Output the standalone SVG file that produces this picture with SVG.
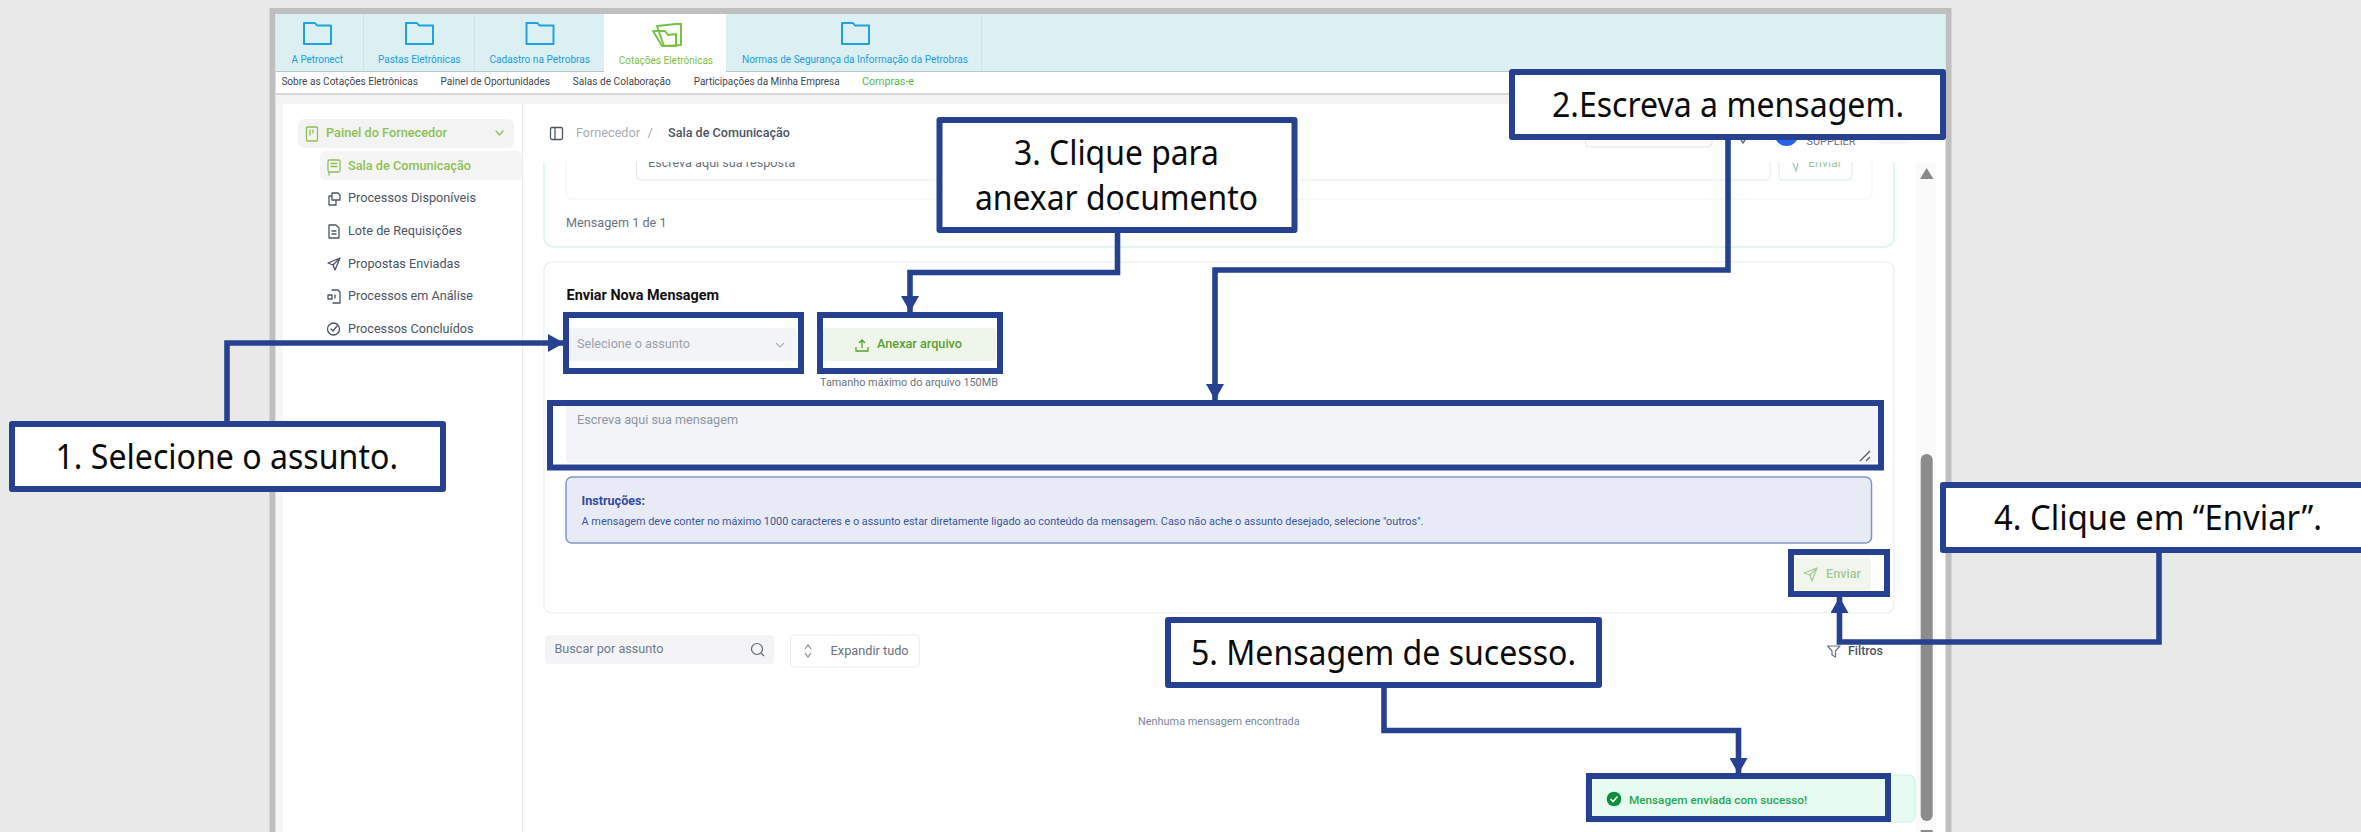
<svg xmlns="http://www.w3.org/2000/svg" width="2361" height="832" viewBox="0 0 2361 832">
<style>
text{font-family:Roboto,"Liberation Sans",sans-serif;font-size:12.5px;fill:#4b5563;white-space:pre}
.tab{font-size:10px;fill:#1aa0dc}
.nav{font-size:10px;fill:#3f4650}
.side{font-size:13px;fill:#4b5563}
.green{fill:#8cc152;font-weight:500}
.co{font-family:"Noto Sans","Open Sans",sans-serif;font-size:35px;fill:#0a0a0a}
.cobox{fill:#fff;stroke:#264190;stroke-width:6;stroke-linejoin:round}
.hl{fill:none;stroke:#264190;stroke-width:6}
.conn{fill:none;stroke:#264190;stroke-width:5.6}
.folder{fill:none;stroke:#1fa3e0;stroke-width:2;stroke-linejoin:round}
.ic{fill:none;stroke:#4b5563;stroke-width:1.3;stroke-linejoin:round;stroke-linecap:round}
.igr{fill:none;stroke:#8cc152;stroke-width:1.3;stroke-linejoin:round;stroke-linecap:round}
.card{fill:#fff;stroke:#e8edf5;stroke-width:1.2}
</style>
<defs>
<marker id="arrow" markerUnits="userSpaceOnUse" markerWidth="16" markerHeight="18" refX="16" refY="9" orient="auto"><path d="M0 0L16 9L0 18Z" fill="#264190"/></marker>
<path id="fold" class="folder" d="M1 23V2H12L14 4.500H28V23Z"/>
</defs>

<g id="window">
<rect width="2361" height="832" fill="#e9e9e9"/>
<rect x="272.500" y="11" width="1676" height="830" fill="#fff" stroke="#bfbfbf" stroke-width="6"/>
<rect x="276" y="95" width="1670" height="9" fill="#f3f3f3"/>
<rect x="276" y="104" width="7" height="728" fill="#f6f6f6"/>
<rect x="276" y="93" width="1670" height="2" fill="#d3d8dc"/>
<rect x="275.500" y="14" width="1670" height="57" fill="#dceff2"/>
<rect x="275.500" y="71" width="1670" height="1" fill="#b9c6cb"/>
<rect x="604" y="14" width="122" height="58" fill="#fff"/>
<path d="M363.500 14V70M474.500 14V70M981.500 14V70" stroke="#cfe2e6" stroke-width="1"/>
</g>

<g id="tabs">
<use href="#fold" x="303" y="21"/><use href="#fold" x="405" y="21"/><use href="#fold" x="525.500" y="21"/><use href="#fold" x="841" y="21"/>
<path d="M657 26L676 24L681 24V45L664 46ZM653 31H665L668 35L676 34V46H662Z" fill="none" stroke="#7ac143" stroke-width="2" stroke-linejoin="round"/>
<text class="tab" x="291.500" y="63" textLength="51.500" lengthAdjust="spacingAndGlyphs">A Petronect</text>
<text class="tab" x="378" y="63" textLength="82.500" lengthAdjust="spacingAndGlyphs">Pastas Eletrônicas</text>
<text class="tab" x="489.500" y="63" textLength="100.500" lengthAdjust="spacingAndGlyphs">Cadastro na Petrobras</text>
<text class="tab" x="618.700" y="64" textLength="94.300" lengthAdjust="spacingAndGlyphs" style="fill:#7ac143">Cotações Eletrônicas</text>
<text class="tab" x="742" y="63" textLength="226" lengthAdjust="spacingAndGlyphs">Normas de Segurança da Informação da Petrobras</text>
<text class="nav" x="281.400" y="85" textLength="136.600" lengthAdjust="spacingAndGlyphs">Sobre as Cotações Eletrônicas</text>
<text class="nav" x="440.600" y="85" textLength="109.400" lengthAdjust="spacingAndGlyphs">Painel de Oportunidades</text>
<text class="nav" x="572.800" y="85" textLength="97.900" lengthAdjust="spacingAndGlyphs">Salas de Colaboração</text>
<text class="nav" x="693.700" y="85" textLength="145.900" lengthAdjust="spacingAndGlyphs">Participações da Minha Empresa</text>
<text class="nav" x="862" y="85" textLength="52" lengthAdjust="spacingAndGlyphs" style="fill:#58b947">Compras-e</text>
</g>

<g id="sidebar">
<rect x="522" y="104" width="1" height="728" fill="#e8ebf0"/>
<rect x="298" y="119" width="216" height="29" rx="6" fill="#f3f3f3"/>
<rect x="320" y="151" width="202" height="29" rx="5" fill="#f5f5f5"/>
<rect class="igr" x="306.500" y="127" width="11" height="14" rx="1"/><path class="igr" d="M310 130V135M313 130V133"/>
<text class="side green" x="326" y="137" textLength="121" lengthAdjust="spacingAndGlyphs">Painel do Fornecedor</text>
<path class="igr" d="M496 131L499.500 135L503 131"/>
<rect class="igr" x="328" y="160" width="12" height="12" rx="1.500"/><path class="igr" d="M331 163.500H337M331 166.500H337M329 172V175"/>
<text class="side green" x="348" y="170" textLength="123" lengthAdjust="spacingAndGlyphs">Sala de Comunicação</text>
<path class="ic" d="M332 193H338L340 195V200H332ZM332 196H329V205H336V200"/>
<text class="side" x="348" y="202" textLength="128" lengthAdjust="spacingAndGlyphs">Processos Disponíveis</text>
<path class="ic" d="M329 225H336L339 228V238H329ZM332 231H336M332 234H336"/>
<text class="side" x="348" y="235" textLength="114" lengthAdjust="spacingAndGlyphs">Lote de Requisições</text>
<path class="ic" d="M340 258L328 263L333 265L335 270ZM333 265L340 258"/>
<text class="side" x="348" y="268" textLength="112" lengthAdjust="spacingAndGlyphs">Propostas Enviadas</text>
<path class="ic" d="M332 290H338L340 292V303H333M328 295H332V299H328ZM335 295V298"/>
<text class="side" x="348" y="300" textLength="125" lengthAdjust="spacingAndGlyphs">Processos em Análise</text>
<circle class="ic" cx="333.500" cy="329" r="6"/><path class="ic" d="M331 329L333 331L337 326"/>
<text class="side" x="348" y="333" textLength="125.500" lengthAdjust="spacingAndGlyphs">Processos Concluídos</text>
</g>

<g id="upper-card">
<rect x="544" y="120" width="1350" height="127" rx="10" fill="#fff" stroke="#daf5e6" stroke-width="1.500"/>
<rect x="566" y="120" width="1306" height="79" rx="6" fill="#fff" stroke="#f2f2f2"/>
<rect x="636.500" y="120" width="1133.500" height="60" rx="4" fill="#fff" stroke="#e6e8ec"/>
<text x="648" y="167" textLength="147" lengthAdjust="spacingAndGlyphs" style="font-size:12.500px;fill:#6b7280">Escreva aqui sua resposta</text>
<rect x="1779" y="120" width="73" height="60" rx="4" fill="#fff" stroke="#d5f0de"/>
<text x="1808" y="167" textLength="34" lengthAdjust="spacingAndGlyphs" style="font-size:12.500px;fill:#9ccba9">Enviar</text>
<path d="M1793 163L1796 171L1798 163" fill="none" stroke="#9ccba9" stroke-width="1.200"/>
<text x="566" y="227" textLength="100.500" lengthAdjust="spacingAndGlyphs" style="font-size:13px;fill:#6b7280">Mensagem 1 de 1</text>
</g>

<g id="header">
<rect x="523" y="104" width="1393" height="58" fill="#fff"/>
<rect class="ic" x="550.500" y="127.500" width="12" height="12" rx="1.500"/><path class="ic" d="M555 127.500V139.500"/>
<text class="side" x="576" y="137" textLength="64" lengthAdjust="spacingAndGlyphs" style="fill:#a8adb5">Fornecedor</text>
<text class="side" x="647.500" y="137" style="fill:#a8adb5">/</text>
<text class="side" x="668" y="137" textLength="122" lengthAdjust="spacingAndGlyphs" style="font-weight:500">Sala de Comunicação</text>
<rect x="1585.500" y="120" width="126.500" height="27" rx="4" fill="#fff" stroke="#e2e4e8"/>
<path d="M1741 140L1743 143L1745 140" fill="none" stroke="#6b7280" stroke-width="1.500"/>
<circle cx="1786.500" cy="134" r="12" fill="#2563eb"/>
<text x="1806.500" y="144.500" textLength="49" lengthAdjust="spacingAndGlyphs" style="font-size:11px;fill:#6b7280">SUPPLIER</text>
<rect x="1875" y="120" width="35" height="24" rx="5" fill="#f5f5f5"/>
</g>

<g id="scrollbar">
<rect x="1916" y="162.500" width="20" height="670" fill="#fafafa"/>
<path d="M1926.700 168L1933.500 179H1920Z" fill="#8a8a8a"/>
<rect x="1920.700" y="454" width="12" height="367" rx="6" fill="#8c8c8c"/>
<path d="M1920.700 830H1932.700V834H1920.700Z" fill="#8c8c8c"/>
</g>

<g id="send-card">
<rect class="card" x="544" y="262" width="1350" height="351" rx="8"/>
<text x="566.600" y="300" textLength="152.400" lengthAdjust="spacingAndGlyphs" style="font-size:14px;font-weight:700;fill:#111">Enviar Nova Mensagem</text>
<rect x="568" y="328" width="229" height="33" rx="4" fill="#f2f4f8"/>
<text x="577" y="348" textLength="113" lengthAdjust="spacingAndGlyphs" style="font-size:13px;fill:#9aa1ac">Selecione o assunto</text>
<path d="M776 343L780 347L784 343" fill="none" stroke="#aab0b9" stroke-width="1.200"/>
<rect x="823" y="328" width="173" height="33" rx="4" fill="#eef6e9"/>
<path d="M862 341V348M859 343L862 340L865 343M856 347V351H868V347" fill="none" stroke="#5a9f32" stroke-width="1.300"/>
<text x="877" y="348" textLength="85" lengthAdjust="spacingAndGlyphs" style="font-size:13px;font-weight:500;fill:#5a9f32">Anexar arquivo</text>
<text x="820" y="386" textLength="178" lengthAdjust="spacingAndGlyphs" style="font-size:11px;fill:#6b7280">Tamanho máximo do arquivo 150MB</text>
<rect x="566" y="403" width="1312" height="60" rx="4" fill="#f2f4f8"/>
<text x="577" y="424" textLength="161" lengthAdjust="spacingAndGlyphs" style="font-size:13px;fill:#8d95a3">Escreva aqui sua mensagem</text>
<path d="M1860 461L1870 451M1866 461L1870 457" stroke="#555" stroke-width="1.200"/>
<rect x="566" y="477" width="1305.500" height="66" rx="6" fill="#e8ebf5" stroke="#8096c8" stroke-width="1.500"/>
<text x="581.600" y="505" textLength="63.400" lengthAdjust="spacingAndGlyphs" style="font-size:12.500px;font-weight:700;fill:#2f4a9a">Instruções:</text>
<text x="581.600" y="525" textLength="841.900" lengthAdjust="spacingAndGlyphs" style="font-size:11px;fill:#3a55a0">A mensagem deve conter no máximo 1000 caracteres e o assunto estar diretamente ligado ao conteúdo da mensagem. Caso não ache o assunto desejado, selecione "outros".</text>
<rect x="1795" y="558" width="76" height="32" rx="4" fill="#f0f6ec"/>
<path d="M1817 568L1804 573L1810 575L1812 581ZM1810 575L1817 568" fill="none" stroke="#a8c89a" stroke-width="1.300" stroke-linejoin="round"/>
<text x="1826" y="578" textLength="35" lengthAdjust="spacingAndGlyphs" style="font-size:12.500px;font-weight:500;fill:#a8c89a">Enviar</text>
</g>

<g id="search-row">
<rect x="545" y="635" width="229" height="29" rx="4" fill="#f4f4f6"/>
<text x="554.500" y="652.700" textLength="109" lengthAdjust="spacingAndGlyphs" style="font-size:12.500px;fill:#6b7a90">Buscar por assunto</text>
<circle cx="757" cy="649" r="5.500" fill="none" stroke="#5f6670" stroke-width="1.200"/><path d="M761 653L764 656" stroke="#5f6670" stroke-width="1.200"/>
<rect x="790.500" y="635" width="129" height="32" rx="4" fill="#fff" stroke="#eeeeee"/>
<path d="M805 649L808 645L811 649M805 653L808 657L811 653" fill="none" stroke="#7c8390" stroke-width="1.100"/>
<text x="830.600" y="654.500" textLength="78" lengthAdjust="spacingAndGlyphs" style="font-size:12.500px;fill:#6b7280">Expandir tudo</text>
<path d="M1827.500 646H1840L1835.500 651V657L1832 655V651Z" fill="none" stroke="#6b7280" stroke-width="1.200" stroke-linejoin="round"/>
<text x="1848" y="654.500" textLength="35" lengthAdjust="spacingAndGlyphs" style="font-size:12.500px;font-weight:500;fill:#4b5563">Filtros</text>
<text x="1138" y="725" textLength="161.700" lengthAdjust="spacingAndGlyphs" style="font-size:11px;fill:#7c8798">Nenhuma mensagem encontrada</text>
</g>

<g id="toast">
<rect x="1586" y="775" width="329" height="47" rx="6" fill="#e8fbf1" stroke="#c9f5dc" stroke-width="1.200"/>
<circle cx="1614" cy="799" r="7.300" fill="#0a8f3c"/>
<path d="M1610.500 799L1613 801.500L1617.500 796.500" fill="none" stroke="#fff" stroke-width="1.600"/>
<text x="1629" y="803.700" textLength="178" lengthAdjust="spacingAndGlyphs" style="font-size:11.500px;font-weight:500;fill:#1fa856">Mensagem enviada com sucesso!</text>
</g>

<g id="connectors">
<path class="conn" marker-end="url(#arrow)" d="M227 424V343H564"/>
<path class="conn" marker-end="url(#arrow)" d="M1728 140V270H1215V400"/>
<path class="conn" marker-end="url(#arrow)" d="M1117.500 233V272.500H910V312"/>
<path class="conn" marker-end="url(#arrow)" d="M2159 552V642H1839.500V597"/>
<path class="conn" marker-end="url(#arrow)" d="M1384 688V730.500H1738.500V774"/>
</g>

<g id="highlight-subject"><rect class="hl" x="566" y="315" width="235" height="56"/></g>
<g id="highlight-attach"><rect class="hl" x="820" y="315" width="180" height="56"/></g>
<g id="highlight-message"><rect class="hl" x="550" y="403" width="1331" height="64.500"/></g>
<g id="highlight-send"><rect class="hl" x="1791" y="552" width="96" height="42"/></g>
<g id="highlight-toast"><rect class="hl" x="1589" y="776" width="299" height="43"/></g>

<g id="callout-1"><rect class="cobox" x="12" y="424" width="431" height="65"/>
<text class="co" x="55.500" y="469" textLength="342.500" lengthAdjust="spacingAndGlyphs">1. Selecione o assunto.</text></g>
<g id="callout-2"><rect class="cobox" x="1512" y="72" width="431" height="65"/>
<text class="co" x="1552" y="116.700" textLength="352" lengthAdjust="spacingAndGlyphs">2.Escreva a mensagem.</text></g>
<g id="callout-3"><rect class="cobox" x="939.500" y="120" width="355" height="110"/>
<text class="co" x="1014" y="165" textLength="205" lengthAdjust="spacingAndGlyphs">3. Clique para</text>
<text class="co" x="975" y="210" textLength="283" lengthAdjust="spacingAndGlyphs">anexar documento</text></g>
<g id="callout-4"><rect class="cobox" x="1943" y="485" width="424" height="65"/>
<text class="co" x="1994" y="530" textLength="328" lengthAdjust="spacingAndGlyphs">4. Clique em “Enviar”.</text></g>
<g id="callout-5"><rect class="cobox" x="1168" y="620" width="431" height="65"/>
<text class="co" x="1191" y="665" textLength="385" lengthAdjust="spacingAndGlyphs">5. Mensagem de sucesso.</text></g>
</svg>
